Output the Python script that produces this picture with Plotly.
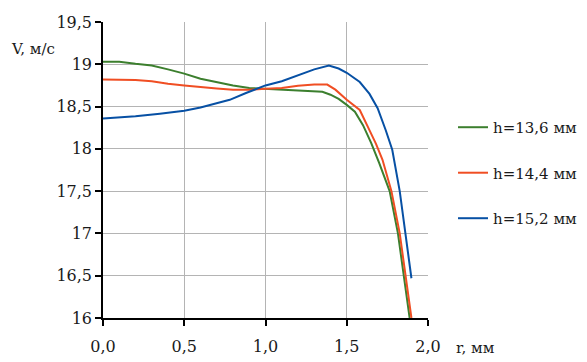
import plotly.graph_objects as go

# ---- data ----
r_g = [0, 0.1, 0.2, 0.3, 0.4, 0.5, 0.6, 0.7, 0.8, 0.9, 1.0, 1.1, 1.2, 1.3, 1.35, 1.4, 1.45, 1.5, 1.55, 1.6, 1.65, 1.7, 1.764, 1.815, 1.85, 1.887]
v_g = [19.03, 19.03, 19.005, 18.985, 18.94, 18.89, 18.83, 18.79, 18.75, 18.72, 18.71, 18.705, 18.69, 18.685, 18.675, 18.64, 18.59, 18.52, 18.44, 18.28, 18.07, 17.83, 17.5, 17.0, 16.5, 16.0]

r_r = [0, 0.1, 0.2, 0.3, 0.4, 0.5, 0.6, 0.7, 0.8, 0.9, 1.0, 1.1, 1.2, 1.3, 1.38, 1.43, 1.5, 1.58, 1.63, 1.68, 1.72, 1.775, 1.826, 1.863, 1.898]
v_r = [18.82, 18.82, 18.815, 18.80, 18.77, 18.75, 18.73, 18.715, 18.70, 18.70, 18.71, 18.72, 18.745, 18.76, 18.76, 18.70, 18.58, 18.46, 18.26, 18.06, 17.87, 17.5, 17.0, 16.5, 16.0]

r_b = [0, 0.1, 0.2, 0.35, 0.5, 0.6, 0.68, 0.78, 0.88, 1.0, 1.1, 1.2, 1.3, 1.39, 1.45, 1.5, 1.58, 1.64, 1.69, 1.74, 1.78, 1.826, 1.863, 1.898]
v_b = [18.36, 18.37, 18.385, 18.415, 18.45, 18.49, 18.53, 18.58, 18.66, 18.75, 18.80, 18.87, 18.94, 18.985, 18.95, 18.90, 18.79, 18.65, 18.48, 18.22, 17.99, 17.5, 17.0, 16.47]

series_names = ["h=13,6 мм", "h=14,4 мм", "h=15,2 мм"]
series_colors = ["#3C7F2E", "#F04E23", "#0750A4"]

x_ticks = [0, 0.5, 1.0, 1.5, 2.0]
x_ticklabels = ["0,0", "0,5", "1,0", "1,5", "2,0"]
y_ticks = [16, 16.5, 17, 17.5, 18, 18.5, 19, 19.5]
y_ticklabels = ["16", "16,5", "17", "17,5", "18", "18,5", "19", "19,5"]

FONT = "DejaVu Serif"

fig = go.Figure()
for (xs, ys), name, col in zip([(r_g, v_g), (r_r, v_r), (r_b, v_b)], series_names, series_colors):
    fig.add_trace(go.Scatter(x=xs, y=ys, mode="lines", name=name, legendgroup=name,
                             line=dict(color=col, width=2)))

fig.update_layout(
    width=587, height=362,
    margin=dict(l=103, r=159, t=22, b=44, autoexpand=False),
    paper_bgcolor="white", plot_bgcolor="white",
    font=dict(family=FONT, size=16, color="#1a1a1a"),
    showlegend=True,
    legend=dict(x=1.077, y=0.49, xanchor="left", yanchor="middle",
                font=dict(family=FONT, size=15, color="#1a1a1a"),
                tracegroupgap=23, bgcolor="rgba(0,0,0,0)"),
    xaxis=dict(range=[0, 2.0], tickvals=x_ticks, ticktext=x_ticklabels,
               showgrid=True, gridcolor="#b4b4b4", gridwidth=1,
               showline=True, linecolor="black", linewidth=1.5,
               ticks="outside", ticklen=6, tickcolor="black", tickwidth=1.5,
               ticklabelstandoff=7, zeroline=False, automargin=False),
    yaxis=dict(range=[16, 19.5], tickvals=y_ticks, ticktext=y_ticklabels,
               showgrid=True, gridcolor="#b4b4b4", gridwidth=1,
               showline=True, linecolor="black", linewidth=1.5,
               ticks="outside", ticklen=6, tickcolor="black", tickwidth=1.5,
               zeroline=False, automargin=False),
    annotations=[
        dict(text="V, м/с", xref="paper", yref="paper", x=-0.29, y=0.91,
             xanchor="left", yanchor="middle", showarrow=False,
             font=dict(family=FONT, size=15, color="#1a1a1a")),
        dict(text="r, мм", xref="paper", yref="paper", x=1.08, y=-0.1,
             xanchor="left", yanchor="middle", showarrow=False,
             font=dict(family=FONT, size=15, color="#1a1a1a")),
    ],
)

fig.write_html("out.html")
